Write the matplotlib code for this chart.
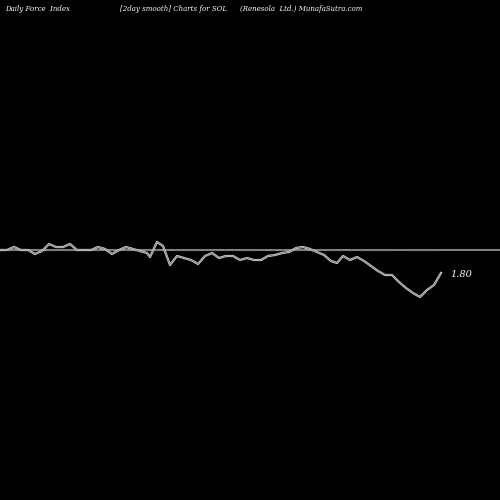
import matplotlib
matplotlib.use('Agg')
import matplotlib.pyplot as plt

# force index (2 day smooth); units = pixels above zero line
xs = [0, 7, 14, 21, 28, 35, 42, 49, 56, 63, 70, 77, 84, 91, 98, 105, 112, 119, 126, 133,
      140, 147, 150, 157, 163, 170, 177, 184, 191, 198, 205, 212, 219, 226, 233, 240, 247,
      254, 261, 268, 275, 282, 289, 296, 303, 310, 317, 324, 331, 337, 343, 350, 357, 364,
      371, 378, 385, 392, 399, 406, 413, 420, 427, 434, 441]
ys = [250, 250, 247, 250, 250, 254, 251, 244, 247, 247, 244, 250, 250, 250, 247, 249, 254,
      250, 247, 249, 251, 253, 257, 242, 246, 265, 256, 258, 260, 264, 256, 253, 258, 256,
      256, 260, 258, 260, 260, 256, 255, 253, 252, 248, 247, 249, 252, 255, 261, 263, 256,
      260, 257, 261, 266, 271, 275, 275, 282, 288, 293, 297, 290, 285, 273]
force = [250 - y for y in ys]

fig = plt.figure(figsize=(5, 5), dpi=100, facecolor="black")
ax = fig.add_axes([0, 0, 1, 1], facecolor="black")
ax.axhline(0, color="#808080", linewidth=1.5)
ax.plot(xs, [0] * len(xs), linestyle=(0, (1, 6)), color="#1a9a1a", linewidth=1)
ax.plot(xs, force, color="#dddddd", linewidth=1.6)
ax.plot(xs, force, color="#808080", linewidth=0.7)
ax.text(450, force[-1] - 4, "1.80", color="white", fontsize=7, style="italic",
        family="DejaVu Serif")
ax.set_xlim(0, 500)
ax.set_ylim(-250, 250)
ax.axis("off")

fs = 5
fig.text(0.01, 0.99, "Daily Force  Index", color="white", fontsize=fs, va="top", style="italic", family="DejaVu Serif")
fig.text(0.24, 0.99, "[2day smooth] Charts for SOL", color="white", fontsize=fs, va="top", style="italic", family="DejaVu Serif")
fig.text(0.48, 0.99, "(Renesola  Ltd.) MunafaSutra.com", color="white", fontsize=fs, va="top", style="italic", family="DejaVu Serif")
fig.savefig("out.png", dpi=100, facecolor="black")
